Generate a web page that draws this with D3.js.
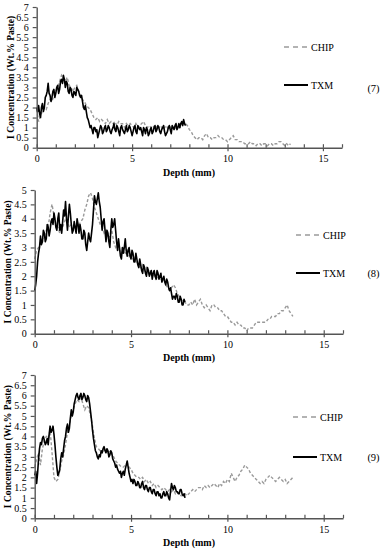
<!DOCTYPE html>
<html>
<head>
<meta charset="utf-8">
<script src="https://cdn.jsdelivr.net/npm/d3@7"></script>
<style>
  body { margin: 0; background: #fff; }
  svg { display: block; }
  text { font-family: "Liberation Serif", "Times New Roman", serif; fill: #000; }
</style>
</head>
<body>
<svg id="chart" width="381" height="550"></svg>
<script>
// depth grids of the profiles (mm)
const txmStep = 0.05;
const chipStep = 0.1;
const xTickLabels = [0, 5, 10, 15];
const xMinorTicks = d3.range(0, 17, 1);
const seriesNames = ['CHIP', 'TXM'];
const panelTags = ['(7)', '(8)', '(9)'];
const yMaxes = [7, 5, 7];

// panel (7)
const txm7 = [
  2.0, 1.8, 2.1, 1.7, 1.5, 2.0, 2.2, 1.8, 2.0, 2.5,
  2.6, 2.8, 3.2, 2.7, 2.6, 2.3, 2.5, 2.8, 2.9, 2.5,
  2.7, 3.0, 3.1, 2.7, 2.9, 3.3, 3.4, 3.2, 3.6, 3.4,
  3.0, 3.3, 3.2, 2.8, 2.7, 3.0, 2.9, 2.6, 2.5, 2.8,
  2.7, 2.6, 3.0, 2.9, 2.8, 2.6, 2.5, 2.6, 2.3, 2.0,
  1.9, 2.1, 1.8, 1.5, 1.4, 1.2, 1.0, 1.1, 0.9, 0.7,
  1.0, 1.0, 0.8, 0.9, 0.5, 0.7, 0.9, 1.1, 1.0, 0.7,
  0.8, 1.0, 1.1, 0.8, 0.9, 1.1, 1.0, 0.8, 0.7, 0.9,
  1.0, 1.2, 0.9, 0.8, 1.1, 1.0, 0.8, 0.6, 1.0, 1.1,
  0.9, 0.8, 0.7, 0.9, 1.1, 0.8, 0.9, 1.1, 1.0, 0.8,
  0.6, 0.8, 1.0, 1.1, 0.8, 0.7, 1.1, 1.0, 0.9, 1.0,
  0.8, 0.6, 1.0, 0.9, 0.7, 1.0, 0.9, 0.6, 0.7, 0.9,
  1.0, 0.7, 0.8, 1.0, 1.1, 0.8, 0.9, 1.1, 1.0, 0.8,
  0.7, 0.9, 1.0, 1.1, 0.8, 0.6, 0.7, 0.8, 1.0, 1.1,
  0.9, 0.7, 1.1, 1.0, 0.9, 1.1, 1.2, 0.9, 1.0, 1.2,
  1.0, 1.2, 1.3, 1.1, 1.4, 1.2, 1.1
];
const chip7 = [
  1.9, 1.3, 1.6, 1.8, 2.0, 1.9, 2.2, 2.4, 2.3, 2.6,
  2.8, 3.0, 3.3, 3.6, 3.4, 3.3, 3.5, 3.1, 3.0, 2.8,
  3.0, 3.1, 2.8, 2.6, 2.4, 2.3, 2.1, 2.0, 1.9, 1.7,
  1.5, 1.4, 1.5, 1.3, 1.4, 1.3, 1.2, 1.4, 1.2, 1.3,
  1.2, 1.3, 1.1, 1.3, 1.2, 1.2, 1.0, 1.2, 1.1, 1.2,
  1.1, 1.0, 1.2, 1.0, 1.1, 1.2, 1.3, 1.1, 1.0, 1.1,
  1.0, 1.1, 0.9, 1.1, 1.0, 1.1, 0.9, 1.0, 1.1, 0.9,
  1.0, 1.1, 0.9, 1.0, 1.1, 1.0, 1.1, 1.2, 1.2, 1.1,
  0.9, 0.8, 0.6, 0.5, 0.4, 0.5, 0.5, 0.4, 0.6, 0.7,
  0.5, 0.5, 0.4, 0.5, 0.5, 0.6, 0.5, 0.5, 0.4, 0.4,
  0.3, 0.4, 0.5, 0.6, 0.4, 0.4, 0.3, 0.3, 0.3, 0.2,
  0.2, 0.2, 0.3, 0.2, 0.2, 0.1, 0.2, 0.2, 0.1, 0.2,
  0.2, 0.1, 0.2, 0.2, 0.1, 0.2, 0.2, 0.3, 0.3, 0.2,
  0.1, 0.2, 0.1, 0.2
];

// panel (8)
const txm8 = [
  1.5, 1.7, 2.0, 2.5, 2.8, 3.0, 3.4, 3.1, 3.2, 3.6,
  3.5, 3.2, 3.3, 3.8, 3.7, 3.4, 3.6, 3.9, 4.0, 3.8,
  4.2, 4.0, 3.7, 3.6, 4.0, 4.2, 3.6, 3.8, 3.5, 3.9,
  4.3, 4.1, 4.6, 4.0, 3.6, 4.1, 4.5, 4.2, 3.8, 3.5,
  3.6, 3.9, 3.7, 3.5, 4.0, 3.8, 3.5, 3.8, 3.6, 3.3,
  3.3, 3.6, 3.5, 3.1, 2.9, 3.2, 3.5, 3.3, 3.2, 3.5,
  3.8, 4.3, 4.8, 4.6, 4.5, 4.7, 4.9, 4.6, 4.4, 4.0,
  3.6, 3.9, 4.0, 3.6, 3.2, 3.6, 3.5, 3.2, 3.0, 3.6,
  4.0, 3.7, 3.8, 4.0, 3.6, 3.2, 2.9, 3.3, 3.0, 2.7,
  2.6, 3.0, 2.8, 3.0, 3.3, 2.9, 2.7, 2.9, 3.0, 2.7,
  2.6, 2.9, 2.8, 2.5, 2.5, 2.8, 2.6, 2.4, 2.3, 2.6,
  2.4, 2.2, 2.1, 2.4, 2.3, 2.1, 2.0, 2.3, 2.2, 2.0,
  2.1, 2.2, 1.9, 2.1, 2.2, 2.0, 1.9, 2.2, 2.1, 1.9,
  2.0, 2.1, 1.8, 1.9, 2.0, 1.8, 1.7, 1.9, 1.8, 1.6,
  1.5, 1.6, 1.4, 1.2, 1.3, 1.3, 1.2, 1.4, 1.3, 1.1,
  1.1, 1.3, 1.2, 1.0, 1.0, 1.2, 1.1
];
const chip8 = [
  2.6, 2.9, 3.0, 3.2, 3.3, 3.4, 3.6, 3.7, 4.2, 4.5,
  4.1, 3.8, 3.7, 3.5, 3.6, 3.8, 4.0, 3.9, 3.7, 3.8,
  3.6, 3.7, 3.9, 3.8, 3.9, 4.0, 4.3, 4.5, 4.8, 4.9,
  4.7, 4.4, 4.2, 4.0, 3.8, 3.7, 3.5, 3.6, 3.3, 3.4,
  3.6, 3.2, 3.0, 3.1, 2.9, 2.8, 2.9, 2.8, 2.9, 2.7,
  2.8, 2.6, 2.7, 2.5, 2.4, 2.3, 2.4, 2.2, 2.3, 2.1,
  2.2, 2.0, 2.1, 1.9, 2.0, 1.9, 1.8, 1.9, 1.7, 1.6,
  1.5, 1.6, 1.7, 1.6, 1.4, 1.3, 1.2, 1.1, 1.1, 1.0,
  1.0, 1.1, 1.0, 1.2, 1.0, 1.1, 1.2, 1.0, 0.9, 1.0,
  0.9, 0.8, 1.0, 1.0, 0.9, 0.9, 0.8, 0.8, 0.7, 0.6,
  0.6, 0.5, 0.4, 0.4, 0.3, 0.4, 0.3, 0.3, 0.2, 0.2,
  0.1, 0.2, 0.2, 0.2, 0.3, 0.4, 0.4, 0.4, 0.4, 0.4,
  0.4, 0.5, 0.5, 0.6, 0.6, 0.6, 0.7, 0.7, 0.8, 0.8,
  0.9, 1.0, 0.8, 0.7, 0.6
];

// panel (9)
const txm9 = [
  2.1, 2.3, 1.7, 2.2, 2.9, 3.4, 3.7, 3.6, 3.9, 4.0,
  3.8, 3.6, 3.7, 3.9, 3.6, 4.1, 4.5, 4.2, 4.3, 4.5,
  4.1, 3.6, 3.0, 2.5, 2.1, 2.2, 2.4, 2.9, 3.2, 3.0,
  3.4, 3.8, 4.0, 4.4, 4.6, 4.2, 4.4, 4.9, 5.3, 5.0,
  5.2, 5.6, 5.8, 6.0, 6.1, 5.9, 5.8, 6.0, 6.1, 5.8,
  5.9, 6.1, 6.0, 5.8, 5.7, 6.0, 5.9, 5.6, 5.2, 4.8,
  4.3, 3.9, 3.6, 3.3, 3.2, 3.0, 2.9, 3.1, 3.0, 3.3,
  3.2, 3.4, 3.5, 3.3, 3.2, 3.4, 3.3, 3.0, 3.1, 3.3,
  3.2, 2.9, 2.8, 2.7, 2.5, 2.6, 2.4, 2.3, 2.2, 2.3,
  2.0, 2.2, 2.3, 2.1, 2.4, 2.6, 2.8, 2.5, 2.2, 2.0,
  1.8, 1.9, 1.7, 1.9, 1.8, 1.6, 1.6, 1.8, 1.7, 1.5,
  1.5, 1.7, 1.8, 1.5, 1.4, 1.6, 1.6, 1.4, 1.3, 1.5,
  1.5, 1.3, 1.2, 1.4, 1.4, 1.2, 1.1, 1.3, 1.3, 1.1,
  1.2, 1.0, 1.0, 1.2, 1.3, 1.1, 1.1, 1.3, 1.2, 1.0,
  0.9, 1.3, 1.7, 1.5, 1.4, 1.6, 1.5, 1.3, 1.3, 1.2,
  1.2, 1.4, 1.4, 1.2, 1.1, 1.2, 1.0
];
const chip9 = [
  2.5, 2.9, 3.2, 2.6, 3.4, 3.8, 4.0, 3.9, 4.3, 3.2,
  2.0, 1.8, 1.9, 2.3, 2.8, 3.1, 3.6, 4.2, 4.6, 5.0,
  5.3, 5.6, 5.8, 5.7, 5.9, 5.6, 5.3, 5.5, 5.4, 5.0,
  4.5, 3.9, 3.5, 3.4, 3.3, 3.2, 3.4, 3.3, 3.2, 3.3,
  3.1, 3.0, 2.8, 2.7, 2.6, 2.5, 2.5, 2.6, 2.7, 2.5,
  2.4, 2.2, 2.1, 2.0, 2.0, 1.9, 2.0, 1.8, 1.9, 1.7,
  1.8, 1.6, 1.7, 1.5, 1.6, 1.5, 1.4, 1.5, 1.4, 1.3,
  1.4, 1.3, 1.4, 1.2, 1.3, 1.2, 1.1, 1.2, 1.2, 1.1,
  1.2, 1.3, 1.4, 1.3, 1.4, 1.5, 1.5, 1.4, 1.6, 1.5,
  1.6, 1.5, 1.6, 1.7, 1.6, 1.5, 1.7, 1.6, 1.8, 1.7,
  1.9, 1.8, 2.2, 2.0, 1.8, 2.0, 2.1, 2.3, 2.4, 2.6,
  2.5, 2.4, 2.2, 2.1, 2.0, 1.9, 1.8, 1.7, 1.8, 1.7,
  1.9, 2.0, 2.1, 2.0, 1.9, 1.8, 1.9, 2.0, 1.9, 1.8,
  1.9, 1.7, 1.8, 1.9, 2.0
];

const panels = [
  { chip: chip7, txm: txm7, x0: 36.7, x1: 342, top: 7, bottom: 147.7,
    depthY: 175.5, yLabelX: 10, legX: 284, legY: [47, 85], tagY: 88 },
  { chip: chip8, txm: txm8, x0: 34.7, x1: 343, top: 190, bottom: 333.7,
    depthY: 361, yLabelX: 7, legX: 296, legY: [235, 273], tagY: 273 },
  { chip: chip9, txm: txm9, x0: 34.7, x1: 343, top: 375, bottom: 518.3,
    depthY: 546, yLabelX: 7, legX: 293, legY: [417, 457], tagY: 457 }
];

const svg = d3.select('#chart');
const axisColor = '#555';

function toPoints(values, step) {
  return values.map((v, i) => [i * step, v]);
}

panels.forEach((p, k) => {
  const yMax = yMaxes[k];
  const x = d3.scaleLinear().domain([0, 16]).range([p.x0, p.x1]);
  const y = d3.scaleLinear().domain([0, yMax]).range([p.bottom, p.top]);
  const g = svg.append('g');

  const line = d3.line().x(d => x(d[0])).y(d => y(d[1]));

  // series: chip dashed grey under txm solid black
  g.append('path')
    .datum(toPoints(p.chip, chipStep))
    .attr('d', line)
    .attr('fill', 'none')
    .attr('stroke', '#9a9a9a')
    .attr('stroke-width', 1.4)
    .attr('stroke-dasharray', '3,2');

  g.append('path')
    .datum(toPoints(p.txm, txmStep))
    .attr('d', line)
    .attr('fill', 'none')
    .attr('stroke', '#000')
    .attr('stroke-width', 1.6)
    .attr('stroke-linejoin', 'round');

  // y axis
  const yAxis = g.append('g')
    .attr('transform', 'translate(' + p.x0 + ',0)')
    .call(d3.axisLeft(y)
      .tickValues(d3.range(0, yMax + 0.01, 0.5))
      .tickFormat(d3.format(''))
      .tickSize(4)
      .tickSizeOuter(0)
      .tickPadding(4));

  // x axis: minor ticks upward, labelled ticks crossing
  const xMinor = g.append('g')
    .attr('transform', 'translate(0,' + p.bottom + ')')
    .call(d3.axisBottom(x)
      .tickValues(xMinorTicks)
      .tickFormat('')
      .tickSize(-3.5)
      .tickSizeOuter(0));

  const xAxis = g.append('g')
    .attr('transform', 'translate(0,' + p.bottom + ')')
    .call(d3.axisBottom(x)
      .tickValues(xTickLabels)
      .tickSize(3.5)
      .tickSizeOuter(0)
      .tickPadding(4));
  xAxis.select('.domain').remove();

  [yAxis, xMinor, xAxis].forEach(a => {
    a.attr('font-family', null);
    a.selectAll('path, line').attr('stroke', axisColor).attr('stroke-width', 1.2);
    a.selectAll('text')
      .attr('font-size', '10px')
      .attr('fill', '#000');
  });
  xMinor.select('.domain').attr('stroke-width', 1.6);
  yAxis.select('.domain').attr('stroke-width', 1.4);

  // axis titles
  g.append('text')
    .attr('x', 189)
    .attr('y', p.depthY)
    .attr('text-anchor', 'middle')
    .attr('font-size', '10px')
    .attr('font-weight', 'bold')
    .text('Depth (mm)');

  g.append('text')
    .attr('transform', 'translate(' + (p.yLabelX + 3.5) + ',' + ((p.top + p.bottom) / 2) + ') rotate(-90)')
    .attr('text-anchor', 'middle')
    .attr('font-size', '9.6px')
    .attr('font-weight', 'bold')
    .text('I Concentration (Wt.% Paste)');

  // legend
  seriesNames.forEach((name, j) => {
    const ly = p.legY[j];
    g.append('line')
      .attr('x1', p.legX).attr('x2', p.legX + 24)
      .attr('y1', ly).attr('y2', ly)
      .attr('stroke', j === 0 ? '#9a9a9a' : '#000')
      .attr('stroke-width', j === 0 ? 1.4 : 2)
      .attr('stroke-dasharray', j === 0 ? '5,4' : null);
    g.append('text')
      .attr('x', p.legX + 27)
      .attr('y', ly + 3.5)
      .attr('font-size', '10px')
      .text(name);
  });

  g.append('text')
    .attr('x', 373.5)
    .attr('y', p.tagY + 3.5)
    .attr('text-anchor', 'middle')
    .attr('font-size', '10.5px')
    .text(panelTags[k]);
});
</script>
</body>
</html>
